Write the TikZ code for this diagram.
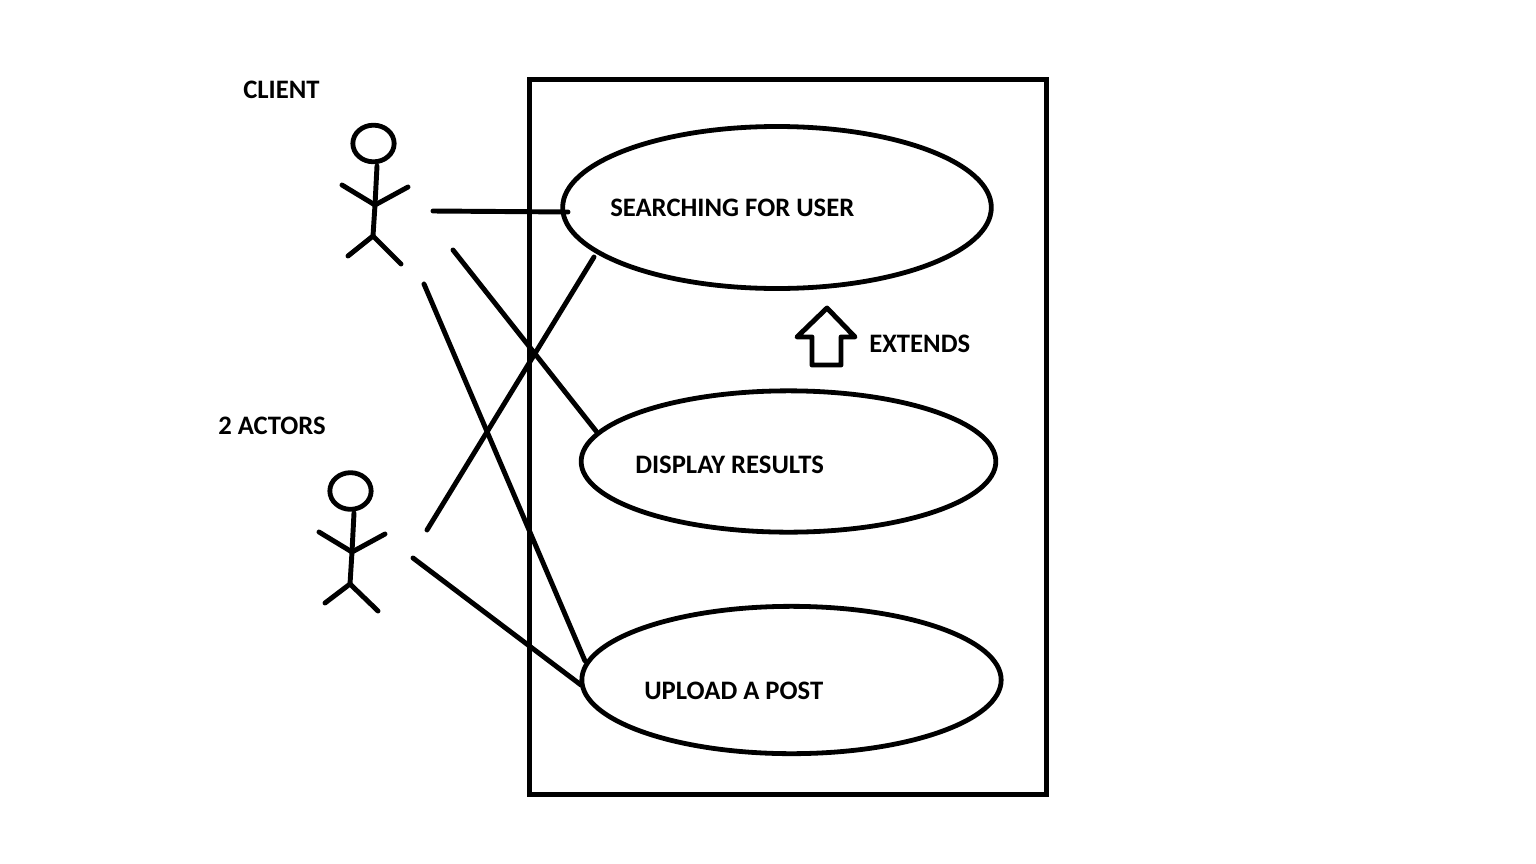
\documentclass[tikz,border=0pt]{standalone}
\usepackage{fontspec}
\setmainfont{Carlito}
\usetikzlibrary{shapes.geometric}
\tikzset{
 x=0.75pt,y=-0.75pt,
 ln/.style={line width=3.7pt,black,line cap=round},
 fine/.style={line width=3.7pt,black,line join=round,line cap=round},
 uc/.style={ellipse,draw=black,line width=3.6pt,inner sep=0pt,outer sep=0pt,fill=none},
 head/.style={ellipse,draw=black,line width=3.6pt,inner sep=0pt,outer sep=0pt,minimum width=31pt,minimum height=27.5pt},
 lab/.style={font=\bfseries\fontsize{20}{22}\selectfont,text=black,inner sep=0pt,anchor=west},
}
\begin{document}
\begin{tikzpicture}
\useasboundingbox (0,0) rectangle (1536,864);
\fill[white] (0,0) rectangle (1536,864);
\node[draw=black,line width=3.7pt,minimum width=387.5pt,minimum height=536pt,inner sep=0pt,outer sep=0pt] (sys) at (788,437) {};
\node[uc,minimum width=321.5pt,minimum height=121.5pt] (u1) at (777,207.5) {};
\node[uc,minimum width=311pt,minimum height=106pt] (u2) at (788.5,461.5) {};
\node[uc,minimum width=314.5pt,minimum height=110.5pt] (u3) at (791.5,680) {};
\node[lab] (t1) at (610,207.5) {SEARCHING FOR USER};
\node[lab] (t2) at (635,464.5) {DISPLAY RESULTS};
\node[lab] (t3) at (644,690.5) {UPLOAD A POST};
\node[lab] (t4) at (869,343.5) {EXTENDS};
\node[lab] (t5) at (243,89.5) {CLIENT};
\node[lab] (t6) at (218,425.5) {2 ACTORS};
% actor 1
\node[head] (h1) at (373.5,143.5) {};
\coordinate (n1) at (377,166);
\coordinate (b1) at (375,205);
\coordinate (c1) at (373,236);
\draw[fine] (n1) -- (b1) -- (c1);
\coordinate (la1) at (342,185);
\coordinate (ra1) at (408,187);
\coordinate (ll1) at (348,256);
\coordinate (rl1) at (401,264);
\draw[fine] (la1) -- (b1) -- (ra1);
\draw[fine] (ll1) -- (c1) -- (rl1);
% actor 2
\node[head] (h2) at (350.5,491) {};
\coordinate (n2) at (354,513);
\coordinate (b2) at (352,552);
\coordinate (c2) at (350,584);
\draw[fine] (n2) -- (b2) -- (c2);
\coordinate (la2) at (319,532);
\coordinate (ra2) at (385,534);
\coordinate (ll2) at (325,603);
\coordinate (rl2) at (378,611);
\draw[fine] (la2) -- (b2) -- (ra2);
\draw[fine] (ll2) -- (c2) -- (rl2);
% connector free ends
\coordinate (a) at (433,211);
\coordinate (d) at (453,250);
\coordinate (e) at (424,284);
\coordinate (f) at (427,530);
\coordinate (g) at (413,558);
\coordinate (ue) at (568,212);
\coordinate (ud) at (596,431);
\coordinate (uf) at (594,257);
\coordinate (ug) at (585,661);
\coordinate (uh) at (581,685);
\draw[ln] (a) -- (ue);
\draw[ln] (d) -- (ud);
\draw[ln] (e) -- (ug);
\draw[ln] (f) -- (uf);
\draw[ln] (g) -- (uh);
% extends arrow
\draw[line width=3.7pt,black,line join=round] (812,365) -- (812,337) -- (797,337) -- (827,308) -- (855,337) -- (841,337) -- (841,365) -- cycle;
\end{tikzpicture}
\end{document}
